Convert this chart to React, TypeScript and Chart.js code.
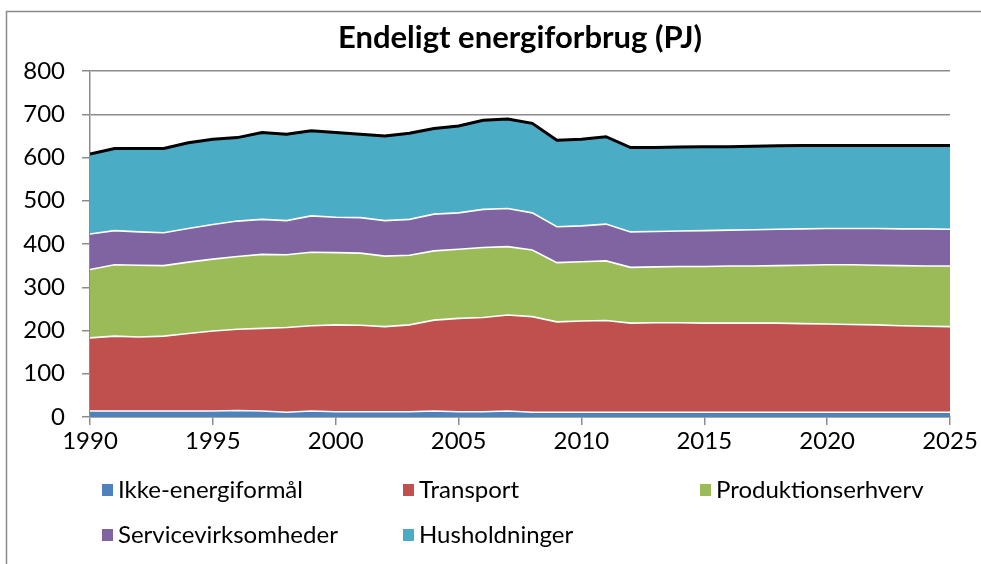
import React, { useEffect, useRef } from "react";
import { Chart, registerables } from "chart.js";

Chart.register(...registerables);

const years = [
  1990, 1991, 1992, 1993, 1994, 1995, 1996, 1997, 1998, 1999,
  2000, 2001, 2002, 2003, 2004, 2005, 2006, 2007, 2008, 2009,
  2010, 2011, 2012, 2013, 2014, 2015, 2016, 2017, 2018, 2019,
  2020, 2021, 2022, 2023, 2024, 2025,
];

const ikkeEnergiformaal = [
  14, 14, 14, 14, 14, 14, 15, 14, 11, 14,
  12, 12, 12, 12, 14, 12, 12, 14, 11, 11,
  11, 11, 11, 11, 11, 11, 11, 11, 11, 11,
  11, 11, 11, 11, 11, 11,
];

const transport = [
  169, 173, 171, 173, 179, 185, 188, 191, 196, 197,
  201, 200, 197, 201, 210, 216, 218, 222, 221, 209,
  211, 212, 206, 207, 207, 206, 206, 206, 206, 205,
  204, 203, 202, 200, 199, 198,
];

const produktionserhverv = [
  158, 165, 166, 163, 165, 166, 168, 171, 168, 170,
  167, 167, 163, 161, 160, 160, 162, 158, 154, 137,
  137, 138, 129, 129, 130, 131, 132, 132, 133, 135,
  137, 138, 138, 139, 139, 140,
];

const servicevirksomheder = [
  82, 79, 77, 76, 78, 80, 82, 81, 79, 84,
  82, 82, 82, 83, 85, 84, 88, 88, 86, 83,
  83, 85, 82, 82, 82, 83, 83, 84, 84, 84,
  84, 84, 85, 85, 86, 85,
];

const husholdninger = [
  185, 190, 193, 195, 198, 197, 193, 201, 200, 197,
  196, 193, 196, 199, 198, 201, 206, 207, 207, 200,
  200, 202, 195, 194, 194, 194, 193, 193, 193, 193,
  192, 192, 192, 193, 193, 194,
];

const seriesNames = [
  "Ikke-energiformål",
  "Transport",
  "Produktionserhverv",
  "Servicevirksomheder",
  "Husholdninger",
];
const seriesColors = ["#4F81BD", "#C0504D", "#9BBB59", "#8064A2", "#4BACC6"];
const seriesValues = [
  ikkeEnergiformaal,
  transport,
  produktionserhverv,
  servicevirksomheder,
  husholdninger,
];

const titleText = "Endeligt energiforbrug (PJ)";
const yTicks = [0, 100, 200, 300, 400, 500, 600, 700, 800];
const xTicks = [1990, 1995, 2000, 2005, 2010, 2015, 2020, 2025];

const FONT = "Lato, 'Liberation Sans', sans-serif";
const GRID = "#8c8c8c";

const decorPlugin = {
  id: "decor",
  beforeDraw(chart: any) {
    const ctx = chart.ctx;
    ctx.save();
    ctx.fillStyle = "#ffffff";
    ctx.fillRect(0, 0, chart.width, chart.height);
    ctx.strokeStyle = "#8a8a8a";
    ctx.lineWidth = 1.5;
    ctx.beginPath();
    ctx.moveTo(6.5, chart.height);
    ctx.lineTo(6.5, 11.5);
    ctx.lineTo(chart.width, 11.5);
    ctx.stroke();
    ctx.restore();
  },
  afterDraw(chart: any) {
    const ctx = chart.ctx;
    const area = chart.chartArea;
    ctx.save();
    ctx.fillStyle = "#000000";
    ctx.font = `bold 31px ${FONT}`;
    ctx.textAlign = "center";
    ctx.textBaseline = "middle";
    ctx.fillText(titleText, (area.left + area.right) / 2, 38);
    ctx.font = `24px ${FONT}`;
    ctx.textAlign = "left";
    const cols = [102, 403, 700];
    const rows = [490, 535];
    seriesNames.forEach((name, i) => {
      const cx = cols[i % 3];
      const cy = rows[Math.floor(i / 3)];
      ctx.fillStyle = seriesColors[i];
      ctx.fillRect(cx, cy - 6, 11, 12);
      ctx.fillStyle = "#000000";
      ctx.fillText(name, cx + 16, cy);
    });
    ctx.restore();
  },
};

export default function App() {
  const ref = useRef<HTMLCanvasElement | null>(null);

  useEffect(() => {
    if (!ref.current) return;
    const toPts = (arr: number[]) => years.map((yr, i) => ({ x: yr, y: arr[i] }));
    const totals = years.map((_, i) =>
      seriesValues.reduce((s, arr) => s + arr[i], 0)
    );

    const datasets: any[] = seriesValues.map((vals, i) => ({
      label: seriesNames[i],
      data: toPts(vals),
      backgroundColor: seriesColors[i],
      borderColor: "#ffffff",
      borderWidth: 1.6,
      pointRadius: 0,
      tension: 0,
      fill: i === 0 ? "origin" : "-1",
      stack: "main",
    }));
    datasets.push({
      label: "Total",
      data: toPts(totals),
      borderColor: "#000000",
      borderWidth: 3,
      pointRadius: 0,
      tension: 0,
      fill: false,
      stack: "total",
      order: -1,
    });

    const chart = new Chart(ref.current, {
      type: "line",
      data: { datasets },
      options: {
        animation: false,
        responsive: false,
        devicePixelRatio: 1,
        layout: { padding: { top: 71, right: 31, left: 0, bottom: 0 } },
        plugins: {
          legend: { display: false },
          title: { display: false },
          tooltip: { enabled: false },
        },
        scales: {
          x: {
            type: "linear",
            min: 1990,
            max: 2025,
            afterBuildTicks: (scale: any) => {
              scale.ticks = xTicks.map((v) => ({ value: v }));
            },
            afterFit: (scale: any) => {
              scale.height = 147;
            },
            grid: {
              drawOnChartArea: false,
              drawTicks: true,
              tickLength: 8,
              color: GRID,
              lineWidth: 1.5,
            },
            border: { display: true, color: GRID, width: 1.5 },
            ticks: {
              color: "#000000",
              font: { family: FONT, size: 24 },
              padding: 2,
              maxRotation: 0,
              autoSkip: false,
              callback: (v: any) => String(v),
            },
          },
          y: {
            stacked: true,
            min: 0,
            max: 800,
            afterBuildTicks: (scale: any) => {
              scale.ticks = yTicks.map((v) => ({ value: v }));
            },
            afterFit: (scale: any) => {
              scale.width = 90;
            },
            grid: {
              drawOnChartArea: true,
              drawTicks: true,
              tickLength: 8,
              color: GRID,
              lineWidth: 1.5,
            },
            border: { display: true, color: GRID, width: 1.5 },
            ticks: {
              color: "#000000",
              font: { family: FONT, size: 24 },
              padding: 17,
              callback: (v: any) => String(v),
            },
          },
        },
      },
      plugins: [decorPlugin],
    });
    return () => chart.destroy();
  }, []);

  return (
    <div style={{ position: "fixed", left: 0, top: 0, width: 981, height: 564 }}>
      <canvas ref={ref} width={981} height={564} style={{ display: "block" }} />
    </div>
  );
}
